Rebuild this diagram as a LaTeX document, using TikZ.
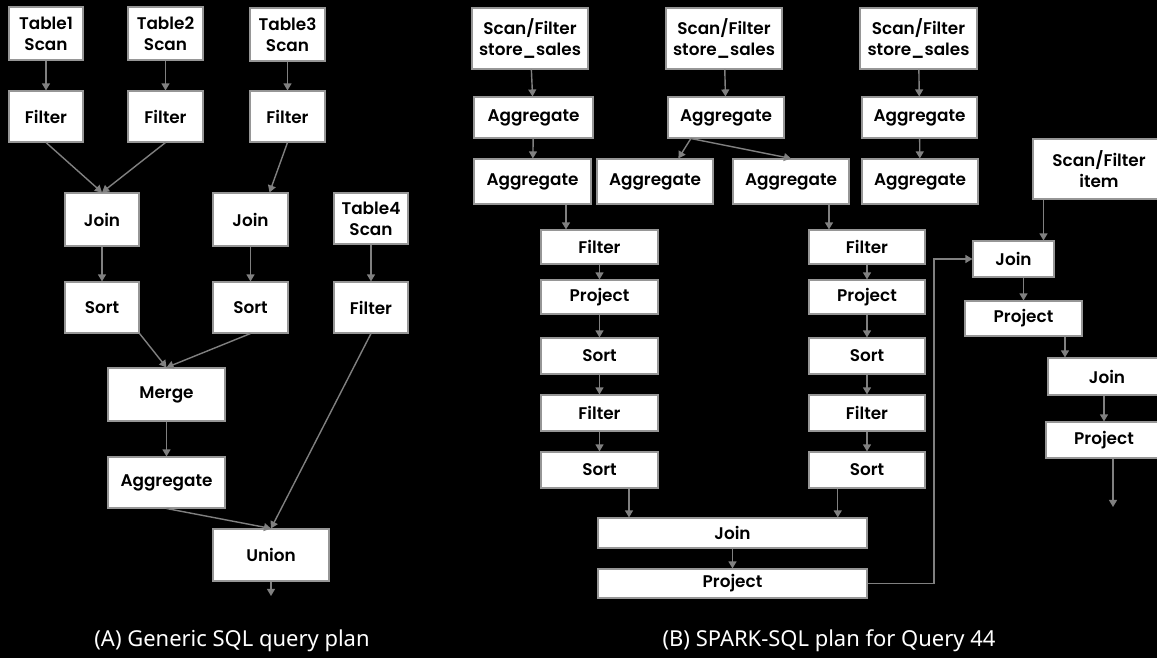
\documentclass[tikz,border=0pt]{standalone}
\usepackage{fontspec}
\newfontfamily\boxfont{Poppins SemiBold}
\newfontfamily\capfont{Noto Sans}
\usetikzlibrary{arrows.meta,calc}
\definecolor{edge}{RGB}{128,128,128}
\definecolor{rim}{RGB}{150,150,150}

\begin{document}
\begin{tikzpicture}[x=0.02cm,y=-0.02cm, >={Triangle[length=4pt,width=4.5pt]},
  box/.style={draw=rim,fill=white,line width=0.6pt,inner sep=0pt,align=center,font=\boxfont\fontsize{9.6}{11.8}\selectfont},
  sz/.style 2 args={minimum width=#1*0.02cm,minimum height=#2*0.02cm},
  arr/.style={->,color=edge,line width=0.8pt},
  caption/.style={text=white,font=\capfont\fontsize{12.5}{14}\selectfont}]
\useasboundingbox (0,0) rectangle (1157,658);
\fill[black] (0,0) rectangle (1157,658);
\clip (0,0) rectangle (1157,658);

\node[box,sz={74}{53}] (t1) at (46,33.5) {Table1\\Scan};
\node[box,sz={75}{53}] (t2) at (165.5,33.5) {Table2\\Scan};
\node[box,sz={75}{53}] (t3) at (287.5,34.5) {Table3\\Scan};
\node[box,sz={74}{51}] (f1) at (46,116.5) {Filter};
\node[box,sz={75}{51}] (f2) at (165.5,116.5) {Filter};
\node[box,sz={75}{51}] (f3) at (287.5,116.5) {Filter};
\node[box,sz={74}{53}] (j1) at (102,219.5) {Join};
\node[box,sz={75}{53}] (j2) at (250.5,219.5) {Join};
\node[box,sz={74}{51}] (t4) at (371,218.5) {Table4\\Scan};
\node[box,sz={74}{51}] (s1) at (102,307.5) {Sort};
\node[box,sz={75}{51}] (s2) at (250.5,307.5) {Sort};
\node[box,sz={74}{51}] (f4) at (371,307.5) {Filter};
\node[box,sz={117}{53}] (mg) at (166.5,394.5) {Merge};
\node[box,sz={117}{51}] (ag) at (166.5,482.5) {Aggregate};
\node[box,sz={116}{52}] (un) at (271,555) {Union};
\coordinate (outA) at (271,596);
\node[caption] (capA) at (232,641) {(A) Generic SQL query plan};

\draw[arr] (t1) -- (f1);
\draw[arr] (t2) -- (f2);
\draw[arr] (t3) -- (f3);
\draw[arr] (f1.south) -- (j1.north);
\draw[arr] (f2.south) -- (j1.north);
\draw[arr] (f3.south) -- ($(j2.north)!.5!(j2.north east)$);
\draw[arr] (j1) -- (s1);
\draw[arr] (j2) -- (s2);
\draw[arr] (t4) -- (f4);
\draw[arr] (s1.south east) -- (mg.north);
\draw[arr] (s2.south) -- (mg.north);
\draw[arr] (mg) -- (ag);
\draw[arr] (ag.south) -- (un.north);
\draw[arr] (f4.south) -- (un.north);
\draw[arr] (un.south) -- (outA);

\node[box,sz={116}{61}] (sf1) at (530,38.5) {Scan/Filter\\store\_sales};
\node[box,sz={116}{61}] (sf2) at (724,38.5) {Scan/Filter\\store\_sales};
\node[box,sz={117}{61}] (sf3) at (918.5,38.5) {Scan/Filter\\store\_sales};
\node[box,sz={119}{41}] (a1) at (533.5,117.5) {Aggregate};
\node[box,sz={116}{41}] (a2) at (726,117.5) {Aggregate};
\node[box,sz={115}{41}] (a3) at (919.5,117.5) {Aggregate};
\node[box,sz={117}{45}] (b1) at (532.5,181.5) {Aggregate};
\node[box,sz={116}{45}] (b2) at (655,181.5) {Aggregate};
\node[box,sz={116}{45}] (b3) at (791,181.5) {Aggregate};
\node[box,sz={116}{45}] (b4) at (920,181.5) {Aggregate};

\node[box,sz={117}{34}] (lf1) at (599.5,247) {Filter};
\node[box,sz={117}{34}] (lp) at (599.5,297) {Project};
\node[box,sz={117}{36}] (ls1) at (599.5,356) {Sort};
\node[box,sz={117}{36}] (lf2) at (599.5,413) {Filter};
\node[box,sz={117}{36}] (ls2) at (599.5,470) {Sort};
\node[box,sz={116}{34}] (rf1) at (867,247) {Filter};
\node[box,sz={116}{34}] (rp) at (867,297) {Project};
\node[box,sz={116}{36}] (rs1) at (867,356) {Sort};
\node[box,sz={116}{36}] (rf2) at (867,413) {Filter};
\node[box,sz={116}{36}] (rs2) at (867,470) {Sort};
\node[box,sz={269}{30}] (jn) at (732.5,533) {Join};
\node[box,sz={269}{29}] (pj) at (732.5,583.5) {Project};

\node[box,sz={132}{60}] (it) at (1099,169) {Scan/Filter\\item};
\node[box,sz={81}{36}] (ij) at (1013.5,259) {Join};
\node[box,sz={117}{35}] (ip) at (1023.5,318.5) {Project};
\node[box,sz={118}{37}] (ij2) at (1107,376.5) {Join};
\node[box,sz={116}{36}] (ip2) at (1104,440) {Project};
\coordinate (turn) at (934,259);
\coordinate (outB) at (1113,507);
\node[caption] (capB) at (829,641) {(B) SPARK-SQL plan for Query 44};

\path ($(b1.south)!.5!(lf1.north)$) coordinate (m1)
      ($(b3.south)!.5!(rf1.north)$) coordinate (m2)
      ($(it.south west)!.5!(ij.north east)$) coordinate (m3)
      ($(ip.south east)!.5!(ij2.north west)$) coordinate (m4);

\draw[arr] (sf1) -- (a1);
\draw[arr] (sf2) -- (a2);
\draw[arr] (sf3) -- (a3);
\draw[arr] (a1) -- (b1);
\draw[arr] (a3) -- (b4);
\draw[arr] ($(a2.south west)!.2!(a2.south east)$) -- ($(b2.north)!.4!(b2.north east)$);
\draw[arr] ($(a2.south west)!.2!(a2.south east)$) -- (b3.north);
\draw[arr] (m1 |- b1.south) -- (m1 |- lf1.north);
\draw[arr] (m2 |- b3.south) -- (m2 |- rf1.north);
\draw[arr] (lf1) -- (lp);
\draw[arr] (lp) -- (ls1);
\draw[arr] (ls1) -- (lf2);
\draw[arr] (lf2) -- (ls2);
\draw[arr] (rf1) -- (rp);
\draw[arr] (rp) -- (rs1);
\draw[arr] (rs1) -- (rf2);
\draw[arr] (rf2) -- (rs2);
\draw[arr] ($(ls2.south)!.5!(ls2.south east)$) coordinate (l1) -- (l1 |- jn.north);
\draw[arr] ($(rs2.south)!.5!(rs2.south west)$) coordinate (r1) -- (r1 |- jn.north);
\draw[arr] (jn) -- (pj);
\draw[arr] (pj.east) -| (turn) -- (ij.west);
\draw[arr] (m3 |- it.south) -- (m3 |- ij.north);
\draw[arr] (ip.north |- ij.south) -- (ip.north);
\draw[arr] (m4 |- ip.south) -- (m4 |- ij2.north);
\draw[arr] (ip2.north |- ij2.south) -- (ip2.north);
\draw[arr] (outB |- ip2.south) -- (outB);
\end{tikzpicture}
\end{document}
